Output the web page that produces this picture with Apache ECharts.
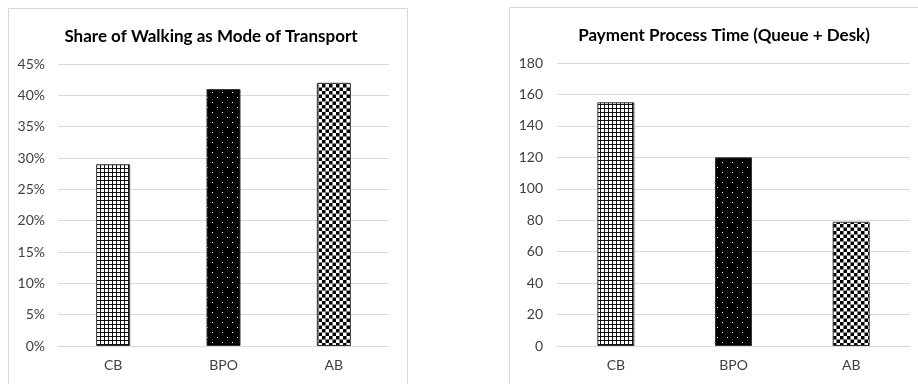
<!DOCTYPE html>
<html><head><meta charset="utf-8">
<script src="https://cdn.jsdelivr.net/npm/echarts@6/dist/echarts.min.js"></script>
<style>html,body{margin:0;padding:0;background:#fff}#c{width:918px;height:384px}</style>
</head><body><div id="c"></div>
<script>
const categories = ['CB', 'BPO', 'AB'];
const walkingShare = [29, 41, 42];          // percent
const paymentTime = [155, 120, 79];
const walkingTitle = 'Share of Walking as Mode of Transport';
const paymentTitle = 'Payment Process Time (Queue + Desk)';

function mk(w, h, draw) {
  const c = document.createElement('canvas'); c.width = w; c.height = h;
  const x = c.getContext('2d'); draw(x); return c;
}
const gridPat = mk(4, 4, x => { x.fillStyle = '#fff'; x.fillRect(0,0,4,4); x.fillStyle = '#111'; x.fillRect(0,0,4,1); x.fillRect(0,0,1,4); });
const dotPat = mk(10, 10, x => { x.fillStyle = '#000'; x.fillRect(0,0,10,10); x.fillStyle = '#fff'; x.fillRect(2,2,1,1); x.fillRect(7,7,1,1); });
const checkPat = mk(7, 7, x => { x.fillStyle = '#fff'; x.fillRect(0,0,7,7); x.fillStyle = '#000'; x.fillRect(0,0,3.5,3.5); x.fillRect(3.5,3.5,3.5,3.5); });
const pats = [gridPat, dotPat, checkPat];

function mkData(vals) {
  return vals.map((v, i) => ({ value: v, itemStyle: { color: { image: pats[i], repeat: 'repeat' }, borderColor: '#333', borderWidth: 1 } }));
}
const font = 'Lato, "Open Sans", sans-serif';
const chart = echarts.init(document.getElementById('c'), null, { renderer: 'canvas' });
const axisLab = { color: '#404040', fontSize: 14, fontFamily: font };
chart.setOption({
  animation: false,
  backgroundColor: '#fff',
  title: [
    { text: walkingTitle, left: 206, top: 23, textAlign: 'center', textStyle: { fontSize: 17, fontWeight: 'bold', color: '#000', fontFamily: font } },
    { text: paymentTitle, left: 719, top: 22, textAlign: 'center', textStyle: { fontSize: 17, fontWeight: 'bold', color: '#000', fontFamily: font } }
  ],
  graphic: [
    { type: 'rect', shape: { x: 8.5, y: 8.5, width: 399, height: 380 }, style: { fill: 'none', stroke: '#d9d9d9', lineWidth: 1 }, silent: true },
    { type: 'rect', shape: { x: 509.5, y: 7.5, width: 420, height: 380 }, style: { fill: 'none', stroke: '#d9d9d9', lineWidth: 1 }, silent: true }
  ],
  grid: [
    { left: 58, right: 529, top: 64, bottom: 38 },
    { left: 557, right: 8, top: 63, bottom: 38 }
  ],
  xAxis: [0, 1].map(i => ({
    type: 'category', gridIndex: i, data: categories,
    axisLine: { lineStyle: { color: '#d9d9d9' } }, axisTick: { show: false },
    axisLabel: Object.assign({ margin: 12 }, axisLab)
  })),
  yAxis: [
    { type: 'value', gridIndex: 0, min: 0, max: 45, interval: 5, axisLabel: Object.assign({ formatter: '{value}%', margin: 13 }, axisLab),
      axisLine: { show: false }, axisTick: { show: false }, splitLine: { lineStyle: { color: '#d9d9d9' } } },
    { type: 'value', gridIndex: 1, min: 0, max: 180, interval: 20, axisLabel: Object.assign({ margin: 14 }, axisLab),
      axisLine: { show: false }, axisTick: { show: false }, splitLine: { lineStyle: { color: '#d9d9d9' } } }
  ],
  series: [
    { type: 'bar', xAxisIndex: 0, yAxisIndex: 0, barWidth: 34, data: mkData(walkingShare) },
    { type: 'bar', xAxisIndex: 1, yAxisIndex: 1, barWidth: 37, data: mkData(paymentTime) }
  ]
});
</script></body></html>
